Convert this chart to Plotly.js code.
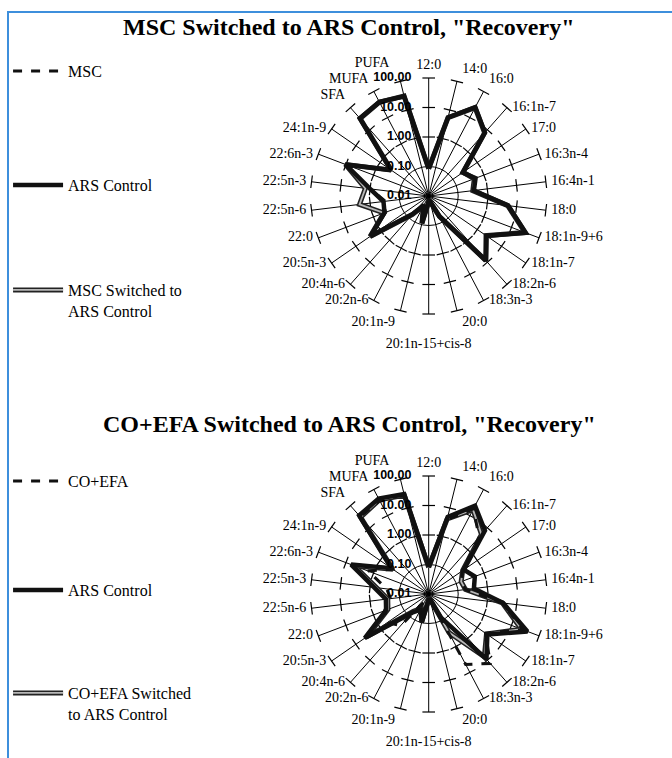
<!DOCTYPE html>
<html><head><meta charset="utf-8">
<script src="https://cdn.plot.ly/plotly-3.0.1.min.js"></script>
<style>
html,body{margin:0;padding:0;background:#fff;overflow:hidden;}
#wrap{position:relative;width:672px;height:758px;}
#frame{position:absolute;left:7px;top:11px;width:700px;height:800px;border-left:2px solid #3d8fdc;border-top:2px solid #3d8fdc;pointer-events:none;z-index:5;}
#chart{position:absolute;left:0;top:0;width:672px;height:758px;}
</style></head><body>
<div id="wrap"><div id="chart"></div><div id="frame"></div></div>
<script>
// ---- categories / tick labels ----
const categories = ['12:0','14:0','16:0','16:1n-7','17:0','16:3n-4','16:4n-1','18:0','18:1n-9+6','18:1n-7','18:2n-6','18:3n-3','20:0','20:1n-15+cis-8','20:1n-9','20:2n-6','20:4n-6','20:5n-3','22:0','22:5n-6','22:5n-3','22:6n-3','24:1n-9','SFA','MUFA','PUFA'];
const radialTickVals = [0.01, 0.1, 1, 10, 100];
const radialTickText = ['0.01', '0.10', '1.00', '10.00', '100.00'];
const spokeTickVals = [1, 10, 100];

// ---- top chart: MSC switched to ARS control ----
const mscTop         = [0.085, 5.3, 24, 7.2, 0.25, 0.48, 0.34, 5.0, 32, 2.3, 8.2, 0.06, 0.016, 0.015, 0.088, 0.022, 0.065, 2.4, 0.38, 0.30, 1.0, 10.0, 0.35, 32, 39, 29];
const arsTop         = [0.085, 5.5, 25, 7.5, 0.25, 0.50, 0.35, 5.2, 33, 2.4, 8.5, 0.06, 0.016, 0.015, 0.090, 0.022, 0.065, 2.5, 0.40, 0.35, 1.0, 10.5, 0.36, 33, 40, 30];
const mscSwitched    = [0.085, 5.4, 24, 7.2, 0.26, 0.45, 0.32, 5.0, 31, 2.3, 8.2, 0.06, 0.016, 0.016, 0.090, 0.024, 0.070, 2.6, 0.42, 2.30, 1.45, 10.5, 0.35, 32, 39, 31];

// ---- bottom chart: CO+EFA switched to ARS control ----
const coefa          = [0.080, 4.0, 18, 3.8, 0.25, 0.15, 0.18, 3.4, 25, 2.2, 14, 5.0, 0.015, 0.014, 0.080, 0.019, 0.27, 0.5, 0.40, 0.20, 0.27, 1.6, 0.30, 32, 38, 30];
const arsBottom      = [0.085, 4.9, 24, 7.5, 0.28, 0.47, 0.35, 3.5, 38, 2.6, 9.0, 0.08, 0.016, 0.016, 0.10, 0.040, 0.070, 4.3, 0.35, 0.29, 0.73, 6.5, 0.35, 36, 45, 31];
const coefaSwitched  = [0.080, 4.2, 17, 5.0, 0.25, 0.15, 0.18, 3.3, 23, 2.4, 7.0, 0.30, 0.015, 0.015, 0.090, 0.035, 0.060, 3.5, 0.30, 0.25, 0.60, 5.0, 0.30, 30, 40, 28];

const serif = 'Liberation Serif';
const sans = 'Liberation Sans';

// where each spoke label sits relative to the end of its spoke (style only)
const labelPos = ['top center','top right','top right','middle right','middle right','middle right','middle right',
  'middle right','middle right','middle right','middle right','middle right','bottom right','bottom center',
  'bottom left','middle left','middle left','middle left','middle left','middle left','middle left','middle left',
  'middle left','top left','top left','top left'];
const labelGap = categories.map(c => c === '20:1n-15+cis-8' ? 36 : (c === 'PUFA' ? 16 : 7));

function closeLoop(a) { return a.concat([a[0]]); }
const rMax = radialTickVals[radialTickVals.length - 1];

function spokeTicks(subplot) {
  const th = [], r = [], ang = [];
  categories.forEach((c, i) => {
    spokeTickVals.forEach(v => { th.push(c); r.push(v); ang.push(i * 360 / categories.length); });
  });
  return {type: 'scatterpolar', subplot: subplot, theta: th, r: r, mode: 'markers',
    marker: {symbol: 'line-ew', size: 9, angle: ang, color: '#000', line: {color: '#000', width: 1.2}},
    showlegend: false, hoverinfo: 'skip', cliponaxis: false};
}
function spokeLabels(subplot) {
  return {type: 'scatterpolar', subplot: subplot, theta: categories, r: categories.map(() => rMax),
    text: categories, mode: 'markers+text', textposition: labelPos,
    marker: {size: labelGap, color: 'rgba(0,0,0,0)', line: {width: 0}},
    textfont: {family: serif, size: 14, color: '#000'},
    showlegend: false, hoverinfo: 'skip', cliponaxis: false};
}
function radialLabels(subplot) {
  return {type: 'scatterpolar', subplot: subplot, theta: radialTickVals.map(() => categories[0]),
    r: radialTickVals, text: radialTickText.map(t => '<b>' + t + '</b>'), mode: 'markers+text',
    textposition: 'middle left',
    marker: {size: 26, color: 'rgba(0,0,0,0)', line: {width: 0}},
    textfont: {family: sans, size: 12.5, color: '#000'},
    showlegend: false, hoverinfo: 'skip', cliponaxis: false};
}
function line(subplot, r, name, legend, lineStyle) {
  return {type: 'scatterpolar', subplot: subplot, theta: closeLoop(categories), r: closeLoop(r),
    mode: 'lines', name: name, legend: legend, line: lineStyle,
    hoverinfo: 'skip', cliponaxis: false};
}

const data = [
  spokeTicks('polar'), spokeLabels('polar'),
  line('polar', mscSwitched, 'MSC Switched to<br>ARS Control', 'legend3', {color: '#222', width: 5}),
  line('polar', mscSwitched, ' ', 'legend4', {color: '#b8b8b8', width: 1.8}),
  line('polar', mscTop, 'MSC', 'legend', {color: '#111', width: 3, dash: 'dash'}),
  line('polar', arsTop, 'ARS Control', 'legend2', {color: '#111', width: 4.5}),
  radialLabels('polar'),

  spokeTicks('polar2'), spokeLabels('polar2'),
  line('polar2', coefaSwitched, 'CO+EFA Switched<br>to ARS Control', 'legend7', {color: '#222', width: 5}),
  line('polar2', coefaSwitched, ' ', 'legend8', {color: '#b8b8b8', width: 1.8}),
  line('polar2', arsBottom, 'ARS Control', 'legend6', {color: '#111', width: 4.5}),
  line('polar2', coefa, 'CO+EFA', 'legend5', {color: '#111', width: 3, dash: 'dash'}),
  radialLabels('polar2')
];

function polarLayout(domain) {
  return {
    domain: domain,
    bgcolor: 'rgba(0,0,0,0)',
    angularaxis: {type: 'category', categoryorder: 'array', categoryarray: categories,
      rotation: 90, direction: 'clockwise', showline: false, showticklabels: false, ticks: '',
      showgrid: true, gridcolor: '#000', gridwidth: 1},
    radialaxis: {type: 'log', range: [-2, 2], tickvals: [0.1], showticklabels: false,
      ticks: '', showline: false, showgrid: true, gridcolor: '#000', gridwidth: 1}
  };
}
function legendAt(yPx) {
  return {x: 0.012, xanchor: 'left', y: 1 - yPx / 758, yanchor: 'top', bgcolor: 'rgba(0,0,0,0)',
    borderwidth: 0, itemwidth: 50, valign: 'top',
    font: {family: serif, size: 16, color: '#000'}};
}

const R = 118;
function dom(cx, cy) {
  return {x: [(cx - R) / 672, (cx + R) / 672], y: [(758 - cy - R) / 758, (758 - cy + R) / 758]};
}

const layout = {
  width: 672, height: 758, autosize: false,
  margin: {l: 0, r: 0, t: 0, b: 0},
  font: {family: serif, color: '#000'},
  paper_bgcolor: '#fff', plot_bgcolor: '#fff',
  hovermode: false,
  polar: polarLayout(dom(428.7, 196)),
  polar2: polarLayout(dom(428.7, 594)),
  legend: legendAt(54), legend2: legendAt(168), legend3: legendAt(273), legend4: legendAt(273),
  legend5: legendAt(464), legend6: legendAt(573), legend7: legendAt(676), legend8: legendAt(676),
  annotations: [
    {text: '<b>MSC Switched to ARS Control, "Recovery"</b>', x: 349 / 672, y: 1 - 27 / 758,
      xref: 'paper', yref: 'paper', xanchor: 'center', yanchor: 'middle', showarrow: false,
      font: {family: serif, size: 24, color: '#000'}},
    {text: '<b>CO+EFA Switched to ARS Control, "Recovery"</b>', x: 349 / 672, y: 1 - 424 / 758,
      xref: 'paper', yref: 'paper', xanchor: 'center', yanchor: 'middle', showarrow: false,
      font: {family: serif, size: 24, color: '#000'}}
  ]
};

Plotly.newPlot('chart', data, layout, {staticPlot: true, displayModeBar: false});
</script></body></html>
